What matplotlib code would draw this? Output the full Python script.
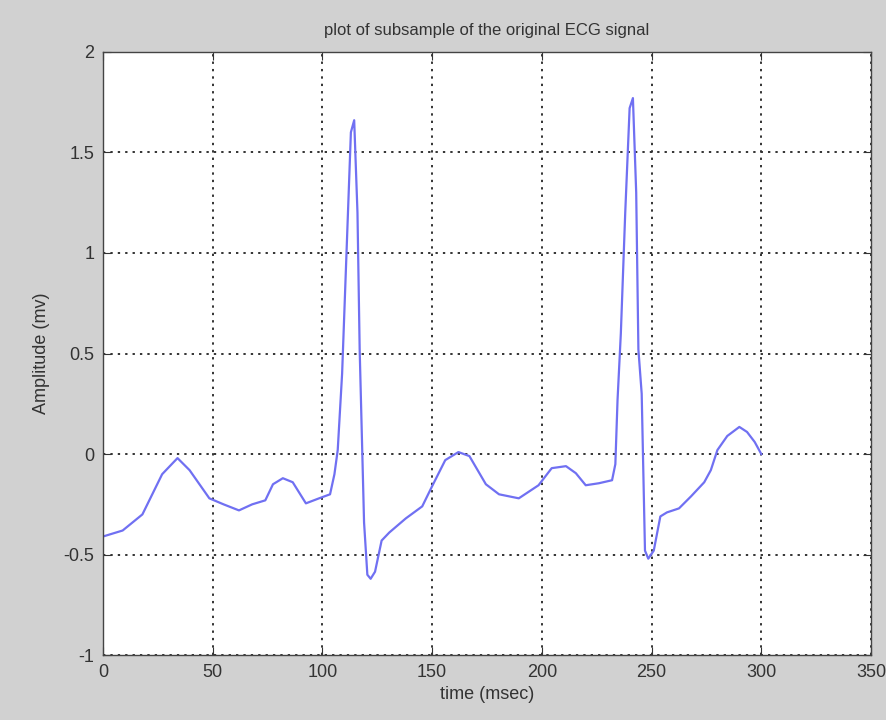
import numpy as np
import matplotlib.pyplot as plt

# subsampled ECG trace (time in msec, amplitude in mV)
t_ms = [0, 9, 18, 27, 34, 39.5, 48.5, 55, 62, 68, 74, 77.5, 82, 86.5, 92.5, 98.5,
        103.5, 105.5, 107, 109, 111, 113, 114.5, 116, 117, 119, 120.5, 122, 124,
        127, 130.5, 138, 145.5, 150, 156, 162, 167, 174.5, 180.5, 189.5, 198.5,
        204.5, 211, 215.5, 220, 226, 232, 233.5, 234.5, 236, 238, 240, 241.5,
        243, 244, 245.5, 247, 248.5, 251, 254, 257, 262.5, 268, 274, 277, 280,
        284.5, 290, 293.5, 297, 300]
amp_mv = [-0.41, -0.38, -0.3, -0.1, -0.02, -0.08, -0.22, -0.25, -0.28, -0.25,
          -0.23, -0.15, -0.12, -0.14, -0.245, -0.22, -0.2, -0.1, 0.02, 0.4, 1.0,
          1.6, 1.66, 1.2, 0.52, -0.34, -0.6, -0.62, -0.585, -0.43, -0.39, -0.32,
          -0.26, -0.16, -0.03, 0.01, -0.01, -0.15, -0.2, -0.22, -0.155, -0.07,
          -0.06, -0.095, -0.155, -0.145, -0.13, -0.05, 0.27, 0.6, 1.2, 1.72,
          1.77, 1.3, 0.52, 0.3, -0.48, -0.52, -0.48, -0.31, -0.29, -0.27, -0.21,
          -0.14, -0.08, 0.02, 0.09, 0.135, 0.11, 0.06, 0.0]

xticks = [0, 50, 100, 150, 200, 250, 300, 350]
yticks = [-1, -0.5, 0, 0.5, 1, 1.5, 2]
ytick_labels = ['-1', '-0.5', '0', '0.5', '1', '1.5', '2']

plt.rcParams['font.family'] = ['Liberation Sans', 'DejaVu Sans']

fig = plt.figure(figsize=(8.87, 7.2), dpi=100, facecolor='#d1d1d1')
ax = fig.add_axes([0.116, 0.090, 0.866, 0.838])
ax.set_facecolor('white')

ax.plot(t_ms, amp_mv, color='#7070f2', linewidth=1.6)

ax.set_xlim(0, 350)
ax.set_ylim(-1, 2)
ax.set_xticks(xticks)
ax.set_yticks(yticks)
ax.set_yticklabels(ytick_labels)
ax.grid(True, linestyle=(0, (1.2, 2.6)), color='#333333', linewidth=1.4)
ax.tick_params(direction='in', length=6, labelsize=13, colors='#333333', pad=6,
               top=True, right=True)
for s in ax.spines.values():
    s.set_color('#444444')
    s.set_linewidth(1.0)

ax.set_title('plot of subsample of the original ECG signal', fontsize=12,
             color='#333333', pad=12)
ax.set_xlabel('time (msec)', fontsize=13, color='#333333', labelpad=4)
ax.set_ylabel('Amplitude (mv)', fontsize=13, color='#333333', labelpad=10)

fig.savefig('out.png', dpi=100, facecolor=fig.get_facecolor())
